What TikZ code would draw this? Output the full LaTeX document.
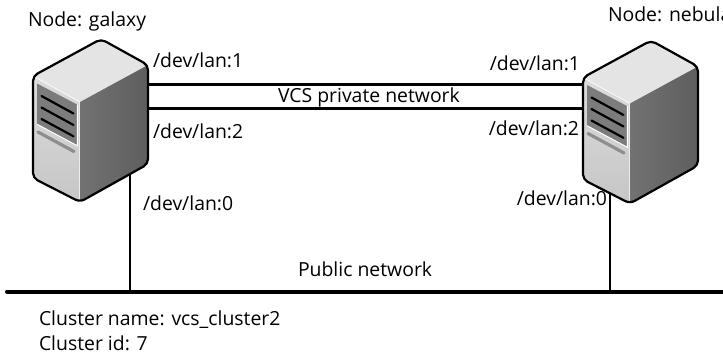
\documentclass[tikz,border=0pt]{standalone}
\usepackage{fontspec}
\setmainfont{Open Sans}
\definecolor{topgray}{HTML}{E4E4E4}
\definecolor{fronttop}{HTML}{DCDCDC}
\definecolor{frontbot}{HTML}{C6C6C6}
\definecolor{sidel}{HTML}{727272}
\definecolor{sider}{HTML}{5E5E5E}
\definecolor{panelgray}{HTML}{7C7C7C}
\definecolor{stripegray}{HTML}{8E8E8E}
\tikzset{
  lbl/.style={inner sep=0pt, outer sep=0pt, anchor=base west, text=black,
    font=\fontsize{19.4bp}{23bp}\selectfont},
  lblr/.style={lbl, anchor=base east},
  vcsline/.style={line width=2.7bp, black},
  tapline/.style={line width=1.3bp, black},
  publine/.style={line width=4bp, black, line cap=round},
  server/.pic={
    \begin{scope}
      \clip[rounded corners=5bp] (0,0) -- (68,-37) -- (115,-11) -- (115,88) -- (47,126) -- (0,102) -- cycle;
      \fill[topgray] (0,0) -- (68,-37) -- (115,-11) -- (47,26) -- cycle;
      \shade[top color=fronttop, bottom color=frontbot] (0,0) -- (47,26) -- (47,126) -- (0,102) -- cycle;
      \shade[left color=sidel, right color=sider] (47,26) -- (115,-11) -- (115,88) -- (47,126) -- cycle;
      \draw[white, line width=0.9bp, opacity=0.8] (0,0) -- (47,26);
      \draw[white!85!gray, line width=1bp] (46.5,26) -- (46.5,126);
      % panel
      \fill[panelgray] (4,7.5) -- (44,28.5) -- (44,69) -- (4,47.5) -- cycle;
      \draw[white, line width=0.9bp] (4,48.3) -- (44.4,69.8) -- (44.4,28.5);
      \draw[black, line width=2.2bp, line cap=round] (8.5,20) -- (40.5,37.5);
      \draw[black, line width=2.2bp, line cap=round] (8.5,31.5) -- (40.5,49);
      \draw[black, line width=2.2bp, line cap=round] (8.5,43) -- (40.5,60.3);
      \draw[stripegray, line width=3.2bp, line cap=round] (5,56) -- (41,75.5);
    \end{scope}
    \draw[black, line width=2.2bp, rounded corners=5bp, line join=round]
      (0,0) -- (68,-37) -- (115,-11) -- (115,88) -- (47,126) -- (0,102) -- cycle;
  }
}
\begin{document}
\begin{tikzpicture}[x=1bp, y=-1bp]
\useasboundingbox (0,0) rectangle (723,356);
\fill[white] (0,0) rectangle (723,356);

% port coordinates
\coordinate (g1) at (147,84.5);
\coordinate (g2) at (147,108.5);
\coordinate (n1) at (584,84.5);
\coordinate (n2) at (584,108.5);
\coordinate (g0) at (130,172);
\coordinate (n0) at (610,191);
\coordinate (pg) at (130,291.5);
\coordinate (pn) at (610,291.5);
\coordinate (pubL) at (7,291.5);
\coordinate (pubR) at (730,291.5);

% connectors
\draw[vcsline] (g1) -- (n1);
\draw[vcsline] (g2) -- (n2);
\draw[tapline] (g0) -- (pg);
\draw[tapline] (n0) -- (pn);
\draw[publine] (pubL) -- (pubR);

% servers
\pic at (33,76) {server};
\pic at (583,77.5) {server};

% labels
\node[lbl] (galaxylbl) at (28,26) {Node: galaxy};
\node[lbl] (nebulalbl) at (608,21.7) {Node: nebula};
\node[lbl] (gl1) at (153,67.3) {/dev/lan:1};
\node[lbl] (gl2) at (153,138) {/dev/lan:2};
\node[lbl] (gl0) at (143,210.5) {/dev/lan:0};
\node[lblr] (nl1) at (580,70.7) {/dev/lan:1};
\node[lblr] (nl2) at (579,135.7) {/dev/lan:2};
\node[lblr] (nl0) at (607,205.5) {/dev/lan:0};
\node[lbl] (vcs) at (278,102.3) {VCS private network};
\node[lbl] (pub) at (298,276) {Public network};
\node[lbl] (cname) at (39,325.7) {Cluster name: vcs\_cluster2};
\node[lbl] (cid) at (39,350) {Cluster id: 7};
\end{tikzpicture}
\end{document}
